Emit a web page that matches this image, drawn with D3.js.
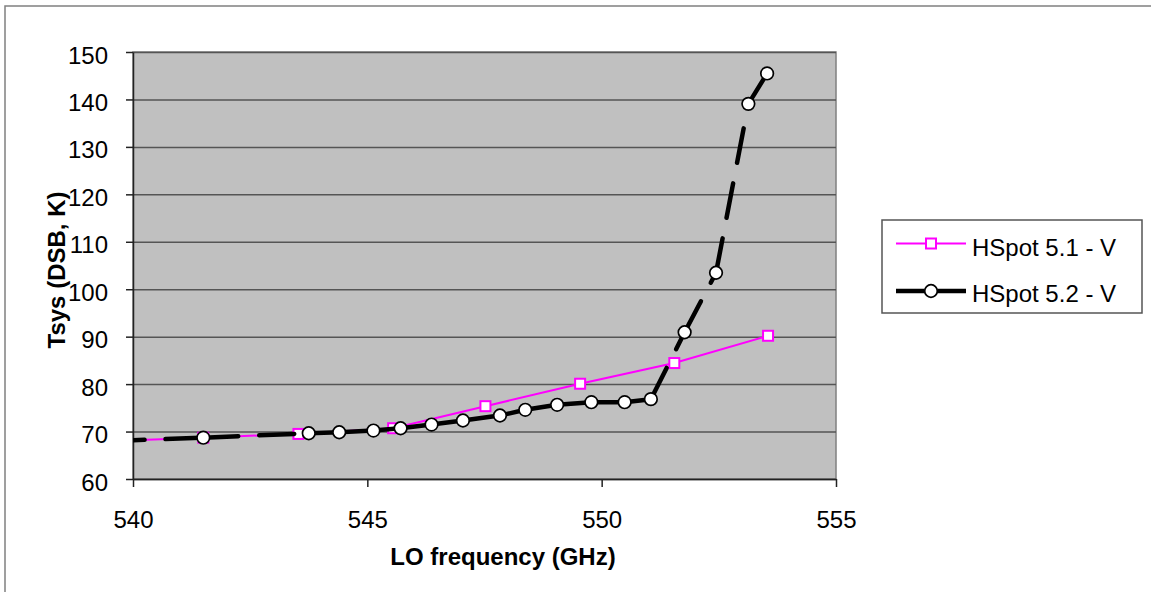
<!DOCTYPE html>
<html>
<head>
<meta charset="utf-8">
<script src="https://cdn.jsdelivr.net/npm/d3@7"></script>
<style>
  body { margin: 0; background: #fff; }
  text { font-family: "Liberation Sans", Arial, sans-serif; }
</style>
</head>
<body>
<div class="canvas"></div>
<script>
// series
const freq51 = [539.5, 541.5, 543.53, 545.55, 547.52, 549.54, 551.55, 553.55];
const tsys51 = [68.0, 68.7, 69.5, 70.7, 75.35, 80.08, 84.44, 90.19];

const freq52 = [539.5, 541.5, 543.75, 544.4, 545.13, 545.71, 546.37, 547.04, 547.83, 548.37,
  549.05, 549.78, 550.49, 551.05, 551.77, 552.44, 553.13, 553.53];
const tsys52 = [68.0, 68.7, 69.64, 69.85, 70.21, 70.7, 71.48, 72.33, 73.38, 74.59,
  75.64, 76.19, 76.19, 76.83, 90.93, 103.47, 139.07, 145.48];

const xTicks = [540, 545, 550, 555];
const yTicks = [60, 70, 80, 90, 100, 110, 120, 130, 140, 150];
const seriesNames = ["HSpot 5.1 - V", "HSpot 5.2 - V"];

const W = 1151, H = 592;
const pLeft = 133, pRight = 836, pTop = 52, pBottom = 479;
const sq = 10, rad = 6.3;

const svg = d3.select(".canvas").append("svg")
  .attr("width", W).attr("height", H);

// outer chart frame
svg.append("rect")
  .attr("x", 5).attr("y", 6).attr("width", W + 20).attr("height", H + 20)
  .attr("fill", "#fff").attr("stroke", "#808080").attr("stroke-width", 1.5);

const x = d3.scaleLinear([540, 555], [pLeft, pRight]);
const y = d3.scaleLinear([60, 150], [pBottom, pTop]);

// plot area
svg.append("rect")
  .attr("x", pLeft).attr("y", pTop)
  .attr("width", pRight - pLeft).attr("height", pBottom - pTop)
  .attr("fill", "#c0c0c0").attr("stroke", "#808080").attr("stroke-width", 1.5);

// gridlines
const grid = svg.append("g")
  .attr("transform", `translate(${pLeft},0)`)
  .call(d3.axisLeft(y).tickValues(yTicks).tickSize(-(pRight - pLeft)).tickFormat(""));
grid.select(".domain").remove();
grid.selectAll("line").attr("stroke", "#555").attr("stroke-width", 1.5);

// y axis
const yAxis = svg.append("g")
  .attr("transform", `translate(${pLeft},0)`)
  .call(d3.axisLeft(y).tickValues(yTicks).tickSize(7).tickPadding(18).tickSizeOuter(0));
yAxis.selectAll("text").attr("font-size", 24).attr("dy", "0.46em").attr("fill", "#000");

// x axis
const xAxis = svg.append("g")
  .attr("transform", `translate(0,${pBottom})`)
  .call(d3.axisBottom(x).tickValues(xTicks).tickSize(8).tickPadding(24).tickSizeOuter(0));
xAxis.selectAll("text").attr("font-size", 24).attr("fill", "#000");

[yAxis, xAxis].forEach(a => {
  a.select(".domain").attr("stroke", "#222").attr("stroke-width", 1.5);
  a.selectAll(".tick line").attr("stroke", "#222").attr("stroke-width", 1.5);
  a.attr("font-family", null);
});

svg.append("clipPath").attr("id", "plotclip")
  .append("rect").attr("x", pLeft).attr("y", pTop)
  .attr("width", pRight - pLeft).attr("height", pBottom - pTop);

const plot = svg.append("g").attr("clip-path", "url(#plotclip)");

// HSpot 5.1 - magenta, squares
const d51 = freq51.map((f, i) => [f, tsys51[i]]);
plot.append("path")
  .datum(d51)
  .attr("d", d3.line().x(d => x(d[0])).y(d => y(d[1])))
  .attr("fill", "none").attr("stroke", "#ff00ff").attr("stroke-width", 2);

plot.selectAll(".sq")
  .data(d51)
  .join("rect")
  .attr("class", "sq")
  .attr("x", d => x(d[0]) - sq / 2).attr("y", d => y(d[1]) - sq / 2)
  .attr("width", sq).attr("height", sq)
  .attr("fill", "#fff").attr("stroke", "#ff00ff").attr("stroke-width", 2);

// HSpot 5.2 - black, long dash that restarts on each segment
const d52 = freq52.map((f, i) => [f, tsys52[i]]);
const segs = d52.slice(1).map((d, i) => [d52[i], d]);
plot.selectAll(".seg")
  .data(segs)
  .join("line")
  .attr("class", "seg")
  .attr("x1", d => x(d[0][0])).attr("y1", d => y(d[0][1]))
  .attr("x2", d => x(d[1][0])).attr("y2", d => y(d[1][1]))
  .attr("stroke", "#000").attr("stroke-width", 4.5)
  .attr("stroke-linecap", "round")
  .attr("stroke-dasharray", "35,21");

plot.selectAll(".dot")
  .data(d52)
  .join("circle")
  .attr("class", "dot")
  .attr("cx", d => x(d[0])).attr("cy", d => y(d[1]))
  .attr("r", rad)
  .attr("fill", "#fff").attr("stroke", "#000").attr("stroke-width", 1.7);

// axis titles
svg.append("text")
  .attr("x", 503).attr("y", 565)
  .attr("text-anchor", "middle")
  .attr("font-size", 24).attr("font-weight", "bold")
  .text("LO frequency (GHz)");

svg.append("text")
  .attr("transform", "translate(65,270) rotate(-90)")
  .attr("text-anchor", "middle")
  .attr("font-size", 24).attr("font-weight", "bold")
  .text("Tsys (DSB, K)");

// legend
const lg = svg.append("g");
lg.append("rect")
  .attr("x", 882).attr("y", 220).attr("width", 260).attr("height", 93)
  .attr("fill", "#fff").attr("stroke", "#555").attr("stroke-width", 1.5);

const e1 = lg.append("g").attr("transform", "translate(0,243.5)");
e1.append("line").attr("x1", 896).attr("x2", 966)
  .attr("stroke", "#ff00ff").attr("stroke-width", 2);
e1.append("rect").attr("x", 931 - sq / 2).attr("y", -sq / 2).attr("width", sq).attr("height", sq)
  .attr("fill", "#fff").attr("stroke", "#ff00ff").attr("stroke-width", 2);
e1.append("text").attr("x", 972).attr("y", 12).attr("font-size", 24).text(seriesNames[0]);

const e2 = lg.append("g").attr("transform", "translate(0,291)");
e2.append("line").attr("x1", 896).attr("x2", 966)
  .attr("stroke", "#000").attr("stroke-width", 4.5);
e2.append("circle").attr("cx", 931).attr("cy", 0).attr("r", rad)
  .attr("fill", "#fff").attr("stroke", "#000").attr("stroke-width", 1.7);
e2.append("text").attr("x", 972).attr("y", 11).attr("font-size", 24).text(seriesNames[1]);
</script>
</body>
</html>
